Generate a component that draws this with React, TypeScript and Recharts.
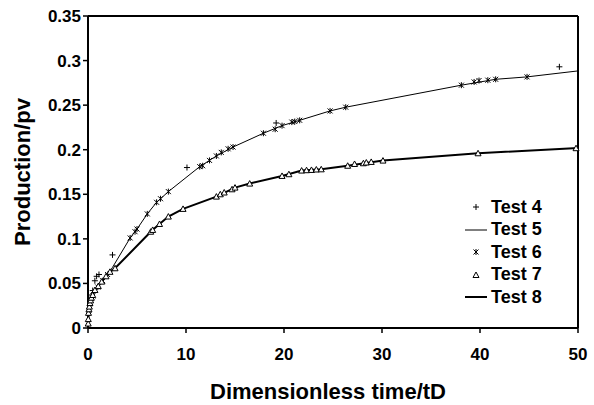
import { ComposedChart, Scatter, XAxis, YAxis, ReferenceLine } from "recharts";

// Test 4: "+" markers
const test4 = [
  { t: 0.1, v: 0.018 }, { t: 0.2, v: 0.025 }, { t: 0.3, v: 0.031 }, { t: 0.37, v: 0.037 },
  { t: 0.48, v: 0.042 }, { t: 0.7, v: 0.053 }, { t: 0.88, v: 0.058 }, { t: 1.12, v: 0.06 },
  { t: 2.5, v: 0.082 }, { t: 10.1, v: 0.18 }, { t: 19.2, v: 0.23 }, { t: 48.1, v: 0.293 },
];

// Test 5: thin line
const test5 = [
  { t: 0, v: 0 }, { t: 0.1, v: 0.015 }, { t: 0.3, v: 0.028 }, { t: 0.6, v: 0.039 },
  { t: 1.0, v: 0.046 }, { t: 1.6, v: 0.054 }, { t: 2.5, v: 0.068 }, { t: 4.3, v: 0.101 },
  { t: 5.0, v: 0.111 }, { t: 6.05, v: 0.128 }, { t: 7.0, v: 0.141 }, { t: 8.2, v: 0.153 },
  { t: 11.4, v: 0.181 }, { t: 13.1, v: 0.193 }, { t: 14.8, v: 0.203 }, { t: 17.9, v: 0.2185 },
  { t: 19.8, v: 0.227 }, { t: 21.6, v: 0.233 }, { t: 24.7, v: 0.2435 }, { t: 26.3, v: 0.2477 },
  { t: 38.1, v: 0.2724 }, { t: 41.6, v: 0.279 }, { t: 44.8, v: 0.2817 }, { t: 50, v: 0.2884 },
];

// Test 6: star markers
const test6 = [
  { t: 0.5, v: 0.036 }, { t: 1.0, v: 0.046 }, { t: 1.5, v: 0.053 }, { t: 2.0, v: 0.06 },
  { t: 4.3, v: 0.101 }, { t: 4.8, v: 0.108 }, { t: 5.0, v: 0.111 }, { t: 6.05, v: 0.128 },
  { t: 7.0, v: 0.141 }, { t: 7.4, v: 0.145 }, { t: 8.2, v: 0.153 }, { t: 11.4, v: 0.181 },
  { t: 11.7, v: 0.182 }, { t: 12.4, v: 0.188 }, { t: 13.1, v: 0.193 }, { t: 13.6, v: 0.197 },
  { t: 14.3, v: 0.201 }, { t: 14.8, v: 0.203 }, { t: 17.9, v: 0.2185 }, { t: 19.1, v: 0.223 },
  { t: 19.8, v: 0.227 }, { t: 20.8, v: 0.231 }, { t: 21.1, v: 0.2316 }, { t: 21.6, v: 0.233 },
  { t: 24.7, v: 0.2435 }, { t: 26.3, v: 0.2477 }, { t: 38.1, v: 0.2724 }, { t: 39.4, v: 0.276 },
  { t: 39.9, v: 0.2776 }, { t: 40.8, v: 0.278 }, { t: 41.6, v: 0.279 }, { t: 44.8, v: 0.2817 },
];

// Test 7: triangle markers
const test7 = [
  { t: 0.02, v: 0.005 }, { t: 0.03, v: 0.01 }, { t: 0.05, v: 0.017 }, { t: 0.1, v: 0.021 },
  { t: 0.14, v: 0.024 }, { t: 0.2, v: 0.028 }, { t: 0.27, v: 0.031 }, { t: 0.35, v: 0.034 },
  { t: 0.48, v: 0.037 }, { t: 0.71, v: 0.0426 }, { t: 1.05, v: 0.047 }, { t: 1.4, v: 0.052 },
  { t: 1.84, v: 0.058 }, { t: 2.24, v: 0.063 }, { t: 2.76, v: 0.067 }, { t: 6.4, v: 0.108 },
  { t: 6.6, v: 0.11 }, { t: 7.3, v: 0.1167 }, { t: 8.2, v: 0.125 }, { t: 9.7, v: 0.1336 },
  { t: 13.1, v: 0.1474 }, { t: 13.5, v: 0.15 }, { t: 13.9, v: 0.152 }, { t: 14.7, v: 0.1556 },
  { t: 15.0, v: 0.1575 }, { t: 16.5, v: 0.162 }, { t: 19.8, v: 0.1706 }, { t: 20.5, v: 0.1725 },
  { t: 21.8, v: 0.1766 }, { t: 22.3, v: 0.177 }, { t: 22.8, v: 0.1773 }, { t: 23.3, v: 0.1778 },
  { t: 23.8, v: 0.178 }, { t: 26.5, v: 0.182 }, { t: 27.2, v: 0.184 }, { t: 28.1, v: 0.1848 },
  { t: 28.4, v: 0.1856 }, { t: 28.9, v: 0.1863 }, { t: 30.1, v: 0.1878 }, { t: 39.8, v: 0.196 },
  { t: 49.8, v: 0.2017 },
];

// Test 8: thick line
const test8 = [
  { t: 0, v: 0 }, { t: 0.05, v: 0.017 }, { t: 0.14, v: 0.024 }, { t: 0.27, v: 0.031 },
  { t: 0.48, v: 0.037 }, { t: 0.71, v: 0.0426 }, { t: 1.05, v: 0.047 }, { t: 1.4, v: 0.052 },
  { t: 1.84, v: 0.058 }, { t: 2.24, v: 0.063 }, { t: 2.76, v: 0.067 }, { t: 6.5, v: 0.109 },
  { t: 7.3, v: 0.1167 }, { t: 8.2, v: 0.125 }, { t: 9.7, v: 0.1336 }, { t: 13.1, v: 0.1474 },
  { t: 15.0, v: 0.1575 }, { t: 16.5, v: 0.162 }, { t: 19.8, v: 0.1706 }, { t: 21.8, v: 0.1766 },
  { t: 23.8, v: 0.178 }, { t: 26.5, v: 0.182 }, { t: 30.1, v: 0.1878 }, { t: 39.8, v: 0.196 },
  { t: 50, v: 0.202 },
];

const xTicks = [0, 10, 20, 30, 40, 50];
const yTicks = [0, 0.05, 0.1, 0.15, 0.2, 0.25, 0.3, 0.35];

const FONT = "Arial, 'Liberation Sans', sans-serif";

const Plus = ({ cx, cy }: any) => (
  <path d={`M${cx - 3},${cy}h6M${cx},${cy - 3}v6`} stroke="#000" strokeWidth={1} fill="none" />
);
const Star = ({ cx, cy }: any) => (
  <path
    d={`M${cx - 2.5},${cy - 2.5}L${cx + 2.5},${cy + 2.5}M${cx + 2.5},${cy - 2.5}L${cx - 2.5},${cy + 2.5}M${cx},${cy - 3}v6`}
    stroke="#000"
    strokeWidth={1}
    fill="none"
  />
);
const Tri = ({ cx, cy }: any) => (
  <path d={`M${cx},${cy - 3}L${cx + 3},${cy + 2.5}L${cx - 3},${cy + 2.5}Z`} stroke="#000" strokeWidth={1} fill="#fff" />
);
const NoDot = () => <g />;

const legendRows = [
  { name: "Test 4", kind: "plus" },
  { name: "Test 5", kind: "thin" },
  { name: "Test 6", kind: "star" },
  { name: "Test 7", kind: "tri" },
  { name: "Test 8", kind: "thick" },
];

function LegendBox() {
  return (
    <div style={{ position: "absolute", left: 462, top: 196, fontFamily: FONT, fontWeight: "bold", fontSize: 18 }}>
      {legendRows.map((r) => (
        <div key={r.name} style={{ display: "flex", alignItems: "center", height: 22.5 }}>
          <svg width={28} height={22}>
            {r.kind === "plus" && <Plus cx={14} cy={11} />}
            {r.kind === "star" && <Star cx={14} cy={11} />}
            {r.kind === "tri" && <Tri cx={14} cy={11} />}
            {r.kind === "thin" && <line x1={3} x2={25} y1={11} y2={11} stroke="#000" strokeWidth={1} />}
            {r.kind === "thick" && <line x1={3} x2={25} y1={11} y2={11} stroke="#000" strokeWidth={2} />}
          </svg>
          <span style={{ marginLeft: 1 }}>{r.name}</span>
        </div>
      ))}
    </div>
  );
}

const XTick = ({ x, y, payload }: any) => (
  <text x={x} y={y} dy={13} textAnchor="middle" fontFamily={FONT} fontWeight="bold" fontSize={17} fill="#000">
    {payload.value}
  </text>
);
const YTick = ({ x, y, payload }: any) => (
  <text x={x} y={y} dy={6} textAnchor="end" fontFamily={FONT} fontWeight="bold" fontSize={17} fill="#000">
    {payload.value}
  </text>
);

export default function App() {
  return (
    <div style={{ position: "absolute", left: 0, top: 0, width: 594, height: 405, background: "#fff" }}>
      <ComposedChart width={594} height={405} margin={{ top: 16, right: 16, bottom: 0, left: 0 }}>
        <XAxis
          type="number"
          dataKey="t"
          domain={[0, 50]}
          ticks={xTicks}
          height={77}
          stroke="#000"
          axisLine={{ stroke: "#000", strokeWidth: 2 }}
          tickLine={{ stroke: "#000", strokeWidth: 1.5 }}
          tickSize={5}
          tickMargin={14}
          tick={<XTick />}
          label={{
            content: () => (
              <text x={328} y={399} textAnchor="middle" fontFamily={FONT} fontWeight="bold" fontSize={22} fill="#000">
                Dimensionless time/tD
              </text>
            ),
          }}
        />
        <YAxis
          type="number"
          dataKey="v"
          domain={[0, 0.35]}
          ticks={yTicks}
          width={88}
          stroke="#000"
          axisLine={{ stroke: "#000", strokeWidth: 2 }}
          tickLine={{ stroke: "#000", strokeWidth: 1.5 }}
          tickSize={5}
          tickMargin={2}
          tick={<YTick />}
          label={{
            content: () => (
              <text
                x={0}
                y={0}
                transform="translate(30,172) rotate(-90)"
                textAnchor="middle"
                fontFamily={FONT}
                fontWeight="bold"
                fontSize={22}
                fill="#000"
              >
                Production/pv
              </text>
            ),
          }}
        />
        <ReferenceLine y={0.35} stroke="#000" strokeWidth={2} />
        <ReferenceLine x={50} stroke="#000" strokeWidth={2} />
        <Scatter name="Test 5" data={test5} line={{ stroke: "#000", strokeWidth: 1 }} shape={NoDot} isAnimationActive={false} />
        <Scatter name="Test 8" data={test8} line={{ stroke: "#000", strokeWidth: 2 }} shape={NoDot} isAnimationActive={false} />
        <Scatter name="Test 4" data={test4} shape={Plus} isAnimationActive={false} />
        <Scatter name="Test 6" data={test6} shape={Star} isAnimationActive={false} />
        <Scatter name="Test 7" data={test7} shape={Tri} isAnimationActive={false} />
      </ComposedChart>
      <LegendBox />
    </div>
  );
}
